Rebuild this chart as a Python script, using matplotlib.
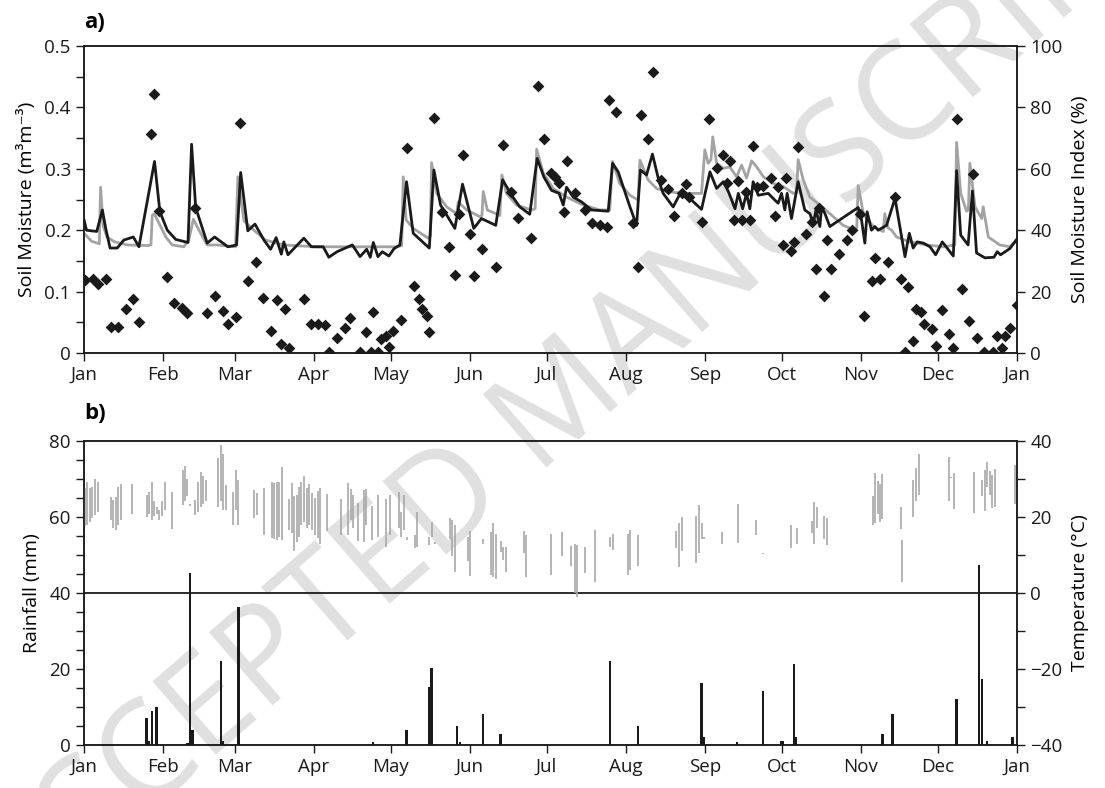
import matplotlib
matplotlib.use('Agg')
import matplotlib.pyplot as plt
from matplotlib.ticker import FixedLocator, MultipleLocator

plt.rcParams['font.family'] = ['Open Sans', 'DejaVu Sans']

# ---------------- data (day of year) ----------------
month_days = [0, 31, 59, 90, 120, 151, 181, 212, 243, 273, 304, 334, 365]
month_labels = ['Jan', 'Feb', 'Mar', 'Apr', 'May', 'Jun', 'Jul', 'Aug', 'Sep', 'Oct', 'Nov', 'Dec', 'Jan']

black_day = [0, 1, 5, 7.2, 8.5, 10.2, 13, 15.6, 19.3, 21.5, 27.6, 29.7, 32.6, 35.9, 40.7, 42.1, 43.7, 48.2,
             51.1, 56.3, 59.7, 61.3, 64.1, 66.9, 70.4, 73, 75.2, 77.2, 78.2, 79.8, 86, 89, 93.6, 95.8, 99,
             105, 108, 110.6, 112, 113.2, 115, 116.7, 119.3, 121.3, 123.6, 126.2, 128.8, 135.1, 136.9,
             139.5, 145.1, 148.1, 152.5, 155.5, 161.1, 163.8, 167.3, 170.5, 174.4, 177.3, 179.9, 182.9,
             185.9, 187.5, 188.8, 191.4, 194.7, 198.6, 205.1, 206.8, 209, 213.6, 216.2, 217.7, 220.1,
             222.4, 225, 226.6, 230.5, 233.4, 237.7, 241.6, 244.9, 247.5, 250.1, 252.1, 254.7, 256,
             257.7, 259.2, 260.5, 261.8, 263.8, 267.7, 270.3, 271.6, 272.9, 274.2, 275.1, 276.8, 279.4,
             282, 284, 285.3, 286.4, 287.9, 288.6, 289.9, 291.8, 302.9, 304.2, 305.5, 306.4, 308.1,
             309.4, 310.7, 314, 317.3, 321.2, 322.9, 324.4, 326, 328.4, 331, 333.2, 335.8, 340.1, 341.4,
             343, 345.9, 347.6, 349.2, 352.5, 356, 357.3, 358.6, 362.2, 364.9]
black_sm = [0.217, 0.200, 0.198, 0.233, 0.203, 0.171, 0.171, 0.184, 0.189, 0.173, 0.312, 0.230, 0.200,
            0.185, 0.180, 0.340, 0.237, 0.179, 0.189, 0.173, 0.176, 0.294, 0.199, 0.210, 0.184, 0.169,
            0.188, 0.161, 0.181, 0.160, 0.187, 0.173, 0.173, 0.156, 0.165, 0.176, 0.157, 0.169, 0.156,
            0.180, 0.157, 0.165, 0.158, 0.170, 0.176, 0.279, 0.195, 0.171, 0.298, 0.241, 0.203, 0.275,
            0.203, 0.219, 0.208, 0.282, 0.257, 0.238, 0.226, 0.317, 0.287, 0.265, 0.260, 0.241, 0.270,
            0.254, 0.246, 0.233, 0.231, 0.309, 0.295, 0.238, 0.208, 0.298, 0.290, 0.324, 0.279, 0.260,
            0.238, 0.261, 0.249, 0.234, 0.295, 0.268, 0.279, 0.263, 0.235, 0.260, 0.235, 0.260, 0.235,
            0.279, 0.257, 0.260, 0.249, 0.244, 0.260, 0.233, 0.260, 0.219, 0.279, 0.233, 0.227, 0.211,
            0.233, 0.206, 0.238, 0.227, 0.206, 0.237, 0.217, 0.179, 0.230, 0.200, 0.206, 0.200, 0.208,
            0.252, 0.157, 0.195, 0.171, 0.181, 0.179, 0.173, 0.160, 0.181, 0.158, 0.297, 0.192, 0.176,
            0.264, 0.163, 0.155, 0.156, 0.165, 0.160, 0.170, 0.185]

grey_day = [0, 3, 6, 6.5, 7.5, 9, 12, 17, 25, 26.2, 26.7, 27.5, 30, 32, 34.5, 39, 41, 42.8, 45, 48.2, 52,
            59.3, 60.2, 62.6, 66.5, 71, 78, 91, 111, 122.5, 124.3, 124.9, 126, 128.8, 134.7, 135.5, 136,
            138, 141.9, 145.8, 146.4, 149.7, 154.9, 155.7, 156.2, 157.8, 162.7, 163.5, 165.3, 169.2,
            175.1, 176.5, 177.1, 179.7, 183.6, 188.8, 195.3, 201.8, 205.7, 206.8, 209.6, 213.6, 216.8,
            217.5, 220.7, 224, 227.9, 234.4, 241.6, 242.9, 244.2, 245.3, 246, 247.5, 250.1, 252.7,
            255.3, 257.3, 259.2, 261.2, 263.2, 265.8, 269.7, 273.6, 277.5, 278.8, 279.4, 281.4, 284,
            287.9, 291.8, 297, 301.6, 302.3, 302.9, 304.9, 308.8, 312.7, 313.3, 314.5, 316, 317.9,
            323.1, 329.6, 336.2, 340.7, 341.4, 343, 345.3, 346, 346.6, 348.6, 351.2, 351.8, 353.8,
            358.3, 362.2, 365]
grey_sm = [0.195, 0.182, 0.178, 0.270, 0.207, 0.189, 0.181, 0.176, 0.175, 0.176, 0.224, 0.227, 0.206,
           0.189, 0.176, 0.173, 0.184, 0.218, 0.200, 0.176, 0.176, 0.173, 0.287, 0.215, 0.200, 0.184,
           0.176, 0.173, 0.173, 0.173, 0.175, 0.287, 0.217, 0.203, 0.187, 0.190, 0.310, 0.260, 0.238,
           0.227, 0.246, 0.233, 0.222, 0.224, 0.263, 0.233, 0.224, 0.290, 0.260, 0.241, 0.233, 0.235,
           0.332, 0.293, 0.268, 0.254, 0.241, 0.233, 0.233, 0.312, 0.276, 0.257, 0.249, 0.314, 0.282,
           0.268, 0.263, 0.260, 0.260, 0.331, 0.309, 0.315, 0.352, 0.309, 0.301, 0.303, 0.287, 0.306,
           0.285, 0.313, 0.303, 0.287, 0.276, 0.271, 0.260, 0.262, 0.315, 0.282, 0.254, 0.241, 0.227,
           0.208, 0.200, 0.202, 0.273, 0.227, 0.206, 0.198, 0.227, 0.204, 0.200, 0.189, 0.181, 0.176,
           0.173, 0.176, 0.343, 0.260, 0.231, 0.233, 0.309, 0.238, 0.219, 0.238, 0.189, 0.176, 0.173,
           0.184]

smi_day = [0.4, 3.4, 5.6, 8.6, 10.4, 13.4, 16.4, 19.3, 21.6, 26.2, 27.5, 29.3, 32.3, 35.3, 38.2, 40.4,
           43.4, 48, 51.3, 54.3, 56.5, 59.3, 61.2, 64.3, 67.2, 70.2, 73.1, 75.4, 77.1, 78.7, 80.2, 86.1,
           89, 91.4, 94.3, 95.9, 99.1, 102.1, 104, 108, 110.4, 112.2, 113.2, 115.2, 116.1, 118.1, 119.4,
           120.8, 124.1, 126.3, 129.3, 131.1, 132.1, 134.1, 135.1, 137, 140, 143, 145.2, 146.9, 148.2,
           151, 152.7, 155.9, 161.1, 164.1, 166.9, 169.9, 174.8, 177.8, 180, 182.7, 184.3, 185.9,
           187.8, 188.9, 192.1, 196, 198.9, 201.9, 204.5, 205.5, 208.2, 214.9, 216.6, 217.9, 220.8,
           222.5, 225.8, 228.6, 230.8, 233.8, 235.5, 236.8, 241.7, 244.5, 247.5, 249.9, 251.4, 252.7,
           254.4, 255.7, 257.6, 258.9, 260.6, 261.9, 263.4, 265.8, 268.8, 270.3, 271.6, 273.3, 274.6,
           276.5, 277.9, 279.5, 282.5, 284.7, 286.4, 287.7, 289.5, 290.6, 292.3, 295.4, 298.4, 300.6,
           303.6, 305.2, 308.2, 309.5, 311.4, 314.4, 317.3, 319.5, 321.2, 322.5, 324.2, 325.5, 327.3,
           328.6, 331.6, 333.3, 335.5, 338.4, 340.1, 341.4, 343.4, 346.2, 347.7, 349.2, 352.2, 355.8,
           357.3, 359.3, 360.3, 362.3, 364.9]
smi_pct = [23.8, 24.1, 22.4, 24.1, 8.4, 8.6, 14.5, 17.7, 10.1, 71.2, 84.3, 46.3, 24.8, 16.2, 14.8, 13.1,
           47.1, 12.9, 18.5, 13.7, 9.4, 11.8, 75.0, 23.6, 29.6, 18.0, 7.3, 17.4, 3.0, 14.4, 1.6, 17.6,
           9.6, 9.6, 9.0, 0.4, 5.0, 8.3, 11.3, 0.4, 7.0, 0.2, 13.2, 0.4, 4.7, 5.6, 1.8, 7.2, 10.6, 66.7,
           21.8, 17.6, 14.5, 12.1, 6.7, 76.6, 46.0, 34.6, 25.4, 45.4, 64.5, 38.7, 25.2, 33.9, 28.1, 67.8,
           52.4, 43.9, 37.6, 87.1, 69.6, 58.5, 57.4, 55.5, 45.8, 62.5, 52.0, 46.6, 42.3, 41.7, 40.9, 82.4,
           78.4, 42.3, 27.9, 77.6, 69.6, 91.4, 56.3, 53.4, 44.6, 52.2, 55.0, 50.9, 42.8, 76.2, 60.2, 64.5,
           55.5, 62.7, 43.3, 56.0, 43.3, 52.3, 43.3, 67.4, 54.2, 54.5, 57.1, 44.6, 54.2, 35.2, 56.9, 33.3,
           36.2, 67.2, 38.7, 42.8, 27.4, 47.1, 18.7, 36.8, 27.4, 32.3, 36.8, 40.0, 45.3, 12.1, 23.6, 31.0,
           24.0, 29.7, 50.7, 24.1, 0.2, 21.6, 3.9, 14.5, 13.5, 9.3, 7.7, 2.4, 14.0, 6.1, 1.6, 76.2, 20.8,
           10.5, 58.3, 5.0, 0.2, 0.4, 5.5, 1.7, 5.5, 8.3, 15.7]

rain_day = [24.5, 25.5, 26.5, 28.4, 40.5, 41.5, 42.4, 53.5, 54.5, 60.4, 113.2, 126.2, 135.1, 136, 146,
            147, 156, 163, 205.7, 216.8, 241.6, 242.5, 255.6, 265.7, 272.7, 273.6, 277.7, 278.5, 312.4,
            316.3, 341.4, 350.2, 351.3, 353.4, 363.3]
rain_mm = [7.0, 1.0, 9.0, 10.1, 0.5, 45.3, 4.0, 22.2, 1.0, 36.4, 0.9, 4.0, 15.2, 20.2, 5.0, 0.9, 8.1, 3.0,
           22.2, 5.0, 16.2, 2.0, 0.9, 14.2, 1.0, 1.0, 21.2, 2.0, 3.0, 8.1, 12.1, 47.4, 17.3, 1.0, 2.0]

temp_day = [0.4, 1.3, 2.4, 3.3, 4.3, 5.3, 10.4, 11.5, 12.5, 13.4, 14.5, 18.6, 24.5, 25.4, 26.5, 27.4,
            28.4, 29.5, 30.4, 31.7, 34.6, 38.6, 39.5, 40.4, 41.5, 43.4, 44.5, 45.6, 46.7, 47.6, 52.3,
            53.5, 54.5, 55.4, 58.4, 59.3, 60.4, 66.5, 67.5, 70.4, 73.4, 74.3, 75.4, 76.3, 77.3, 80.2,
            81.2, 82.3, 83.2, 84.2, 85.1, 86.1, 87.1, 88.1, 89.3, 90.4, 91.4, 92.3, 95.2, 100.4, 103.4,
            104.3, 105.4, 107.3, 109.5, 110.3, 112.5, 115.1, 118.1, 119.7, 123.3, 124.2, 125.2, 126.2,
            129.5, 130.1, 135.1, 136.0, 137.3, 143.2, 144.1, 145.1, 150.1, 151.0, 156.0, 159.1, 160.1,
            161.2, 163.0, 164.0, 165.1, 172.1, 172.9, 182.9, 187.1, 190.7, 192.0, 193.0, 196.0, 199.9,
            205.7, 206.8, 212.9, 213.8, 216.8, 231.8, 232.7, 233.8, 239.6, 240.7, 241.6, 242.5, 249.8,
            256.0, 262.9, 265.5, 276.6, 278.8, 284.7, 285.7, 286.6, 289.6, 290.5, 308.5, 309.4, 310.5,
            311.4, 312.4, 319.5, 320.2, 324.4, 325.5, 326.6, 338.5, 339.4, 340.5, 348.3, 351.4, 352.5,
            353.4, 354.4, 355.4, 356.4, 364.4]
temp_max = [27.5, 29.3, 27.5, 28.0, 29.9, 29.3, 25.2, 24.5, 25.2, 28.0, 28.6, 28.6, 25.8, 26.6, 29.1,
            24.1, 22.7, 21.9, 24.1, 29.3, 26.6, 32.4, 33.4, 29.9, 23.4, 24.5, 29.3, 31.9, 30.8, 29.8,
            35.4, 38.9, 36.6, 28.4, 26.6, 32.4, 29.8, 27.1, 26.3, 27.5, 29.3, 28.9, 29.3, 29.3, 33.2,
            24.6, 28.9, 25.6, 25.8, 28.0, 29.3, 30.8, 27.5, 28.8, 26.3, 25.0, 26.8, 27.7, 26.1, 24.6,
            29.0, 27.3, 25.8, 23.6, 27.2, 27.3, 22.9, 25.8, 24.6, 25.8, 26.6, 21.4, 25.8, 14.8, 15.3,
            21.4, 14.8, 18.8, 13.3, 19.6, 19.2, 17.9, 14.8, 16.3, 14.1, 16.1, 18.3, 15.5, 13.7, 12.2,
            12.2, 16.4, 15.3, 15.5, 16.1, 12.4, 12.9, 12.6, 12.0, 16.6, 14.8, 15.5, 15.4, 16.6, 15.3,
            16.4, 18.3, 20.1, 20.3, 23.2, 18.3, 14.8, 16.1, 23.3, 19.2, 10.6, 17.9, 17.1, 19.0, 24.0,
            22.7, 20.3, 19.7, 25.4, 31.7, 29.5, 28.7, 31.2, 22.5, 14.0, 29.8, 32.8, 36.6, 35.9, 30.6,
            31.7, 31.8, 29.8, 32.4, 34.4, 32.2, 31.1, 32.5, 33.6]
temp_min = [17.5, 17.9, 18.8, 19.6, 20.5, 21.4, 19.2, 17.0, 16.6, 17.9, 19.2, 20.9, 19.9, 20.9, 19.2,
            20.2, 20.9, 19.2, 20.2, 21.8, 16.8, 23.2, 24.1, 25.4, 23.0, 20.5, 21.4, 22.7, 23.4, 24.1,
            22.7, 24.1, 21.8, 21.8, 17.9, 21.8, 17.9, 19.6, 20.5, 15.3, 14.4, 14.1, 13.9, 14.8, 13.9,
            16.6, 15.7, 11.1, 13.5, 14.8, 17.9, 18.8, 17.0, 17.9, 16.6, 15.3, 14.4, 13.0, 16.2, 15.3,
            15.3, 19.2, 17.0, 13.8, 13.5, 17.8, 13.9, 14.8, 12.0, 15.3, 17.0, 14.8, 16.6, 14.0, 11.8,
            12.2, 12.5, 14.8, 12.9, 14.1, 9.6, 5.6, 8.3, 4.4, 13.0, 4.6, 4.1, 3.6, 10.9, 8.7, 5.6, 10.4,
            4.3, 4.6, 9.6, 7.2, -0.1, -1.0, 5.2, 2.9, 12.2, 11.3, 4.6, 6.0, 7.1, 11.8, 6.9, 11.1, 7.8,
            10.4, 14.1, 14.1, 12.9, 13.2, 15.3, 10.2, 11.8, 12.9, 15.7, 12.9, 17.0, 14.1, 12.6, 17.9,
            18.5, 20.8, 18.8, 19.4, 16.8, 3.0, 19.9, 24.1, 25.8, 24.3, 30.2, 22.1, 21.0, 25.5, 21.6,
            27.8, 25.8, 22.3, 22.5, 23.3]

# ---------------- figure ----------------
fig = plt.figure(figsize=(11.05, 7.88), dpi=100)

# watermark (as in the reference, partly cut by the figure edges)
fig.text(0.516, 0.492, 'ACCEPTED MANUSCRIPT', fontsize=97, color='#e0e0e0', rotation=41,
         ha='center', va='center', zorder=-5, rotation_mode='anchor')

ax1 = fig.add_axes([0.0760, 0.5520, 0.8443, 0.3896])
ax1.set_facecolor('none')
ax1.plot(grey_day, grey_sm, color='#a3a3a3', lw=2.0, zorder=2)
ax1.plot(black_day, black_sm, color='#1a1a1a', lw=2.0, zorder=3)
ax1.set_xlim(0, 365)
ax1.set_ylim(0, 0.5)
ax1.yaxis.set_major_locator(FixedLocator([0, 0.1, 0.2, 0.3, 0.4, 0.5]))
ax1.set_yticklabels(['0', '0.1', '0.2', '0.3', '0.4', '0.5'])
ax1.yaxis.set_minor_locator(MultipleLocator(0.05))
ax1.set_xticks(month_days)
ax1.set_xticklabels(month_labels)
ax1.set_ylabel('Soil Moisture (m³m⁻³)', fontsize=14, labelpad=6)

ax1r = ax1.twinx()
ax1r.scatter(smi_day, smi_pct, marker='D', s=36, color='#1a1a1a', zorder=4, linewidths=0)
ax1r.set_ylim(0, 100)
ax1r.set_yticks([0, 20, 40, 60, 80, 100])
ax1r.set_ylabel('Soil Moisture Index (%)', fontsize=14, labelpad=6)

ax2 = fig.add_axes([0.0760, 0.0546, 0.8443, 0.3858])
ax2.set_facecolor('none')
ax2.bar(rain_day, rain_mm, width=0.9, color='#1a1a1a', zorder=3)
ax2.axhline(40, color='#1a1a1a', lw=1.3, zorder=2)
ax2.set_xlim(0, 365)
ax2.set_ylim(0, 80)
ax2.set_yticks([0, 20, 40, 60, 80])
ax2.yaxis.set_minor_locator(MultipleLocator(5))
ax2.set_xticks(month_days)
ax2.set_xticklabels(month_labels)
ax2.set_ylabel('Rainfall (mm)', fontsize=14, labelpad=6)

ax2r = ax2.twinx()
ax2r.vlines(temp_day, temp_min, temp_max, color='#a8a8a8', lw=1.2)
ax2r.set_ylim(-40, 40)
ax2r.set_yticks([-40, -20, 0, 20, 40])
ax2r.yaxis.set_minor_locator(MultipleLocator(10))
ax2r.set_ylabel('Temperature (°C)', fontsize=14, labelpad=6)

for ax in (ax1, ax1r, ax2, ax2r):
    ax.tick_params(which='both', direction='out', length=6, width=1, labelsize=13.5, colors='#1a1a1a')
    for s in ax.spines.values():
        s.set_linewidth(1.1)
        s.set_color('#1a1a1a')

fig.text(84 / 1105, 1 - 33 / 788, 'a)', fontsize=16, fontweight='bold', ha='left', va='bottom')
fig.text(84 / 1105, 1 - 424 / 788, 'b)', fontsize=16, fontweight='bold', ha='left', va='bottom')

fig.savefig('out.png', dpi=100)
